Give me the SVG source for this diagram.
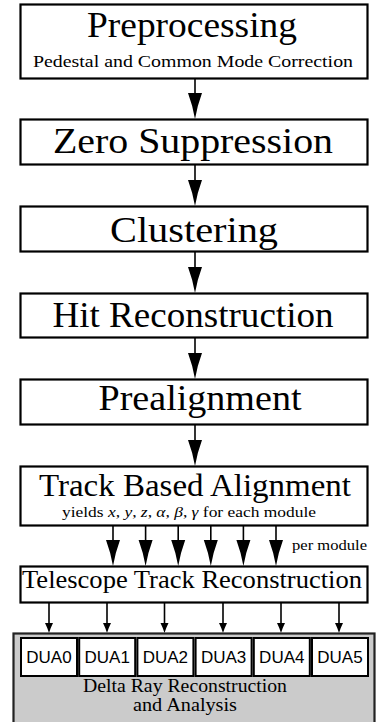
<svg xmlns="http://www.w3.org/2000/svg" width="392" height="722" viewBox="0 0 392 722">
<style>
.box{fill:#fff;stroke:#000;stroke-width:2.2}
.gray{fill:#cbcbcb;stroke:#222;stroke-width:2.2}
.dua{fill:#fff;stroke:#000;stroke-width:2}
.t{fill:#000;text-anchor:middle}
.s{font-family:"Liberation Sans",Arial,sans-serif;font-size:17px;text-anchor:middle;fill:#000}
.ln{stroke:#000;stroke-width:1.6;fill:none}
.i{font-style:italic}
</style>
<defs>
<path id="head" d="M-7,0 Q-2.5,12 0,26 Q2.5,12 7,0 Z" fill="#000"/>
<path id="shead" d="M-4,0 Q-1.5,5 0,10 Q1.5,5 4,0 Z" fill="#000"/>
</defs>
<g id="connectors">
<line class="ln" x1="195" y1="79" x2="195" y2="96"/><use href="#head" x="195" y="93"/>
<line class="ln" x1="195" y1="165" x2="195" y2="183"/><use href="#head" x="195" y="180"/>
<line class="ln" x1="195" y1="252" x2="195" y2="270"/><use href="#head" x="195" y="267"/>
<line class="ln" x1="195" y1="338" x2="195" y2="356"/><use href="#head" x="195" y="353"/>
<line class="ln" x1="195" y1="425" x2="195" y2="443"/><use href="#head" x="195" y="440"/>
<line class="ln" x1="113" y1="526" x2="113" y2="543"/><use href="#head" x="113" y="540"/>
<line class="ln" x1="145.6" y1="526" x2="145.6" y2="543"/><use href="#head" x="145.6" y="540"/>
<line class="ln" x1="178.2" y1="526" x2="178.2" y2="543"/><use href="#head" x="178.2" y="540"/>
<line class="ln" x1="210.8" y1="526" x2="210.8" y2="543"/><use href="#head" x="210.8" y="540"/>
<line class="ln" x1="243.4" y1="526" x2="243.4" y2="543"/><use href="#head" x="243.4" y="540"/>
<line class="ln" x1="276" y1="526" x2="276" y2="543"/><use href="#head" x="276" y="540"/>
<text font-family="Liberation Serif, DejaVu Serif, serif" font-size="15" x="292" y="550" textLength="75" lengthAdjust="spacingAndGlyphs">per module</text>
<line class="ln" x1="49" y1="603" x2="49" y2="625"/><use href="#shead" x="49" y="623"/>
<line class="ln" x1="107" y1="603" x2="107" y2="625"/><use href="#shead" x="107" y="623"/>
<line class="ln" x1="164.5" y1="603" x2="164.5" y2="625"/><use href="#shead" x="164.5" y="623"/>
<line class="ln" x1="223" y1="603" x2="223" y2="625"/><use href="#shead" x="223" y="623"/>
<line class="ln" x1="281" y1="603" x2="281" y2="625"/><use href="#shead" x="281" y="623"/>
<line class="ln" x1="339" y1="603" x2="339" y2="625"/><use href="#shead" x="339" y="623"/>
</g>
<g id="preprocessing">
<rect class="box" x="20.5" y="4.5" width="347" height="74"/>
<text class="t" font-family="Liberation Serif, DejaVu Serif, serif" font-size="35" x="192" y="37" textLength="210" lengthAdjust="spacingAndGlyphs">Preprocessing</text>
<text class="t" font-family="Liberation Serif, DejaVu Serif, serif" font-size="17" x="193" y="67" textLength="320" lengthAdjust="spacingAndGlyphs">Pedestal and Common Mode Correction</text>
</g>
<g id="zero-suppression">
<rect class="box" x="20.5" y="119.5" width="347" height="45"/>
<text class="t" font-family="Liberation Serif, DejaVu Serif, serif" font-size="35" x="193" y="153" textLength="280" lengthAdjust="spacingAndGlyphs">Zero Suppression</text>
</g>
<g id="clustering">
<rect class="box" x="20.5" y="206.5" width="347" height="45"/>
<text class="t" font-family="Liberation Serif, DejaVu Serif, serif" font-size="35" x="194" y="242" textLength="168" lengthAdjust="spacingAndGlyphs">Clustering</text>
</g>
<g id="hit-reconstruction">
<rect class="box" x="20.5" y="293.5" width="347" height="44"/>
<text class="t" font-family="Liberation Serif, DejaVu Serif, serif" font-size="35" x="193" y="327" textLength="281" lengthAdjust="spacingAndGlyphs">Hit Reconstruction</text>
</g>
<g id="prealignment">
<rect class="box" x="20.5" y="379.5" width="347" height="45"/>
<text class="t" font-family="Liberation Serif, DejaVu Serif, serif" font-size="35" x="200" y="410" textLength="203" lengthAdjust="spacingAndGlyphs">Prealignment</text>
</g>
<g id="track-based-alignment">
<rect class="box" x="20.5" y="466.5" width="347" height="59"/>
<text class="t" font-family="Liberation Serif, DejaVu Serif, serif" font-size="31" x="195" y="496" textLength="312" lengthAdjust="spacingAndGlyphs">Track Based Alignment</text>
<text class="t" font-family="Liberation Serif, DejaVu Serif, serif" font-size="15" x="189" y="517" textLength="254" lengthAdjust="spacingAndGlyphs">yields <tspan class="i">x</tspan>, <tspan class="i">y</tspan>, <tspan class="i">z</tspan>, <tspan class="i">α</tspan>, <tspan class="i">β</tspan>, <tspan class="i">γ</tspan> for each module</text>
</g>
<g id="telescope-track-reconstruction">
<rect class="box" x="20.5" y="566.5" width="347" height="36"/>
<text class="t" font-family="Liberation Serif, DejaVu Serif, serif" font-size="25" x="192" y="588" textLength="340" lengthAdjust="spacingAndGlyphs">Telescope Track Reconstruction</text>
</g>
<g id="delta-ray-reconstruction">
<rect class="gray" x="13.5" y="633.5" width="361" height="130"/>
<text class="t" font-family="Liberation Serif, DejaVu Serif, serif" font-size="18" x="185" y="692" textLength="204" lengthAdjust="spacingAndGlyphs">Delta Ray Reconstruction</text>
<text class="t" font-family="Liberation Serif, DejaVu Serif, serif" font-size="18" x="185" y="711" textLength="104" lengthAdjust="spacingAndGlyphs">and Analysis</text>
</g>
<g id="dua0"><rect class="dua" x="21" y="638" width="56" height="38"/><text class="s" x="49" y="663">DUA0</text></g>
<g id="dua1"><rect class="dua" x="79.2" y="638" width="56" height="38"/><text class="s" x="107.2" y="663">DUA1</text></g>
<g id="dua2"><rect class="dua" x="137.4" y="638" width="56" height="38"/><text class="s" x="165.4" y="663">DUA2</text></g>
<g id="dua3"><rect class="dua" x="195.6" y="638" width="56" height="38"/><text class="s" x="223.6" y="663">DUA3</text></g>
<g id="dua4"><rect class="dua" x="253.8" y="638" width="56" height="38"/><text class="s" x="281.8" y="663">DUA4</text></g>
<g id="dua5"><rect class="dua" x="312" y="638" width="56" height="38"/><text class="s" x="340" y="663">DUA5</text></g>
</svg>
